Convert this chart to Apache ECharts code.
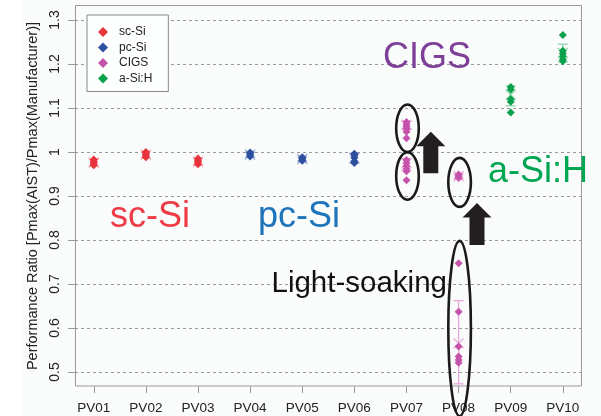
<!DOCTYPE html>
<html><head><meta charset="utf-8">
<script src="https://cdn.jsdelivr.net/npm/echarts@6/dist/echarts.min.js"></script>
<style>html,body{margin:0;padding:0;background:#fff}#c{width:601px;height:416px}</style>
</head><body><div id="c"></div>
<script>
// ---------- data ----------
const categories = ['PV01','PV02','PV03','PV04','PV05','PV06','PV07','PV08','PV09','PV10'];
const yTickLabels = ['0.5','0.6','0.7','0.8','0.9','1','1.1','1.2','1.3'];
const materials = ['sc-Si','pc-Si','CIGS','a-Si:H'];

// individual measurements (diamonds)
const pv01 = [0.983, 0.979, 0.976, 0.973, 0.970];
const pv02 = [1.000, 0.997, 0.994, 0.991, 0.988];
const pv03 = [0.985, 0.981, 0.978, 0.975, 0.972];
const pv04 = [0.999, 0.996, 0.993, 0.990];
const pv05 = [0.988, 0.985, 0.982, 0.980];
const pv06 = [0.996, 0.992, 0.987, 0.979, 0.975];
const pv07Initial = [0.982, 0.975, 0.968, 0.962, 0.956, 0.936];
const pv07Soaked  = [1.068, 1.063, 1.058, 1.052, 1.046, 1.031];
const pv08Initial = [0.747, 0.637, 0.558, 0.535, 0.527, 0.521];
const pv08Soaked  = [0.949, 0.946, 0.943, 0.941];
const pv09 = [1.148, 1.142, 1.120, 1.114, 1.090];
const pv10 = [1.266, 1.230, 1.224, 1.217, 1.210, 1.206];

// group summaries (mean cross and error bar)
const groupCategory = ['PV01','PV02','PV03','PV04','PV05','PV06','PV07','PV07','PV08','PV08','PV09','PV10'];
const groupMaterial = ['sc-Si','sc-Si','sc-Si','pc-Si','pc-Si','pc-Si','CIGS','CIGS','CIGS','CIGS','a-Si:H','a-Si:H'];
const groupMean = [0.976, 0.994, 0.978, 0.994, 0.984, 0.986, 0.975, 1.062, 0.565, 0.945, 1.130, 1.225];
const groupLow  = [0.969, 0.987, 0.971, 0.988, 0.979, 0.975, 0.958, 1.052, 0.473, 0.940, 1.105, 1.205];
const groupHigh = [0.983, 1.001, 0.985, 1.000, 0.989, 0.997, 0.985, 1.070, 0.662, 0.950, 1.150, 1.245];

// highlighted groups (ellipses): category, centre value, half height value
const ellipseCategory = ['PV07','PV07','PV08','PV08'];
const ellipseCentre   = [1.054, 0.9455, 0.931, 0.599];
const ellipseHalf     = [0.054, 0.054, 0.0557, 0.199];

// ---------- styling ----------
const dark  = {'sc-Si':'#e8333d','pc-Si':'#2d4f9f','CIGS':'#c653ab','a-Si:H':'#0aa14c'};
const light = {'sc-Si':'#f5a3a8','pc-Si':'#97a9d6','CIGS':'#e9a6d9','a-Si:H':'#8fd6ad'};
const FONT = 'Liberation Sans, Arial, sans-serif';

const pointGroups = [
  ['PV01', pv01, 'sc-Si'], ['PV02', pv02, 'sc-Si'], ['PV03', pv03, 'sc-Si'],
  ['PV04', pv04, 'pc-Si'], ['PV05', pv05, 'pc-Si'], ['PV06', pv06, 'pc-Si'],
  ['PV07', pv07Initial, 'CIGS'], ['PV07', pv07Soaked, 'CIGS'],
  ['PV08', pv08Initial, 'CIGS'], ['PV08', pv08Soaked, 'CIGS'],
  ['PV09', pv09, 'a-Si:H'], ['PV10', pv10, 'a-Si:H']
];

function errItem(params, api) {
  const x = api.value(0);
  const lo = api.coord([x, api.value(1)]);
  const hi = api.coord([x, api.value(2)]);
  const mid = api.coord([x, api.value(3)]);
  const style = {stroke: api.visual('color'), lineWidth: 1.3, fill: null};
  const cw = 5, xs = 5;
  return {type: 'group', children: [
    {type: 'line', shape: {x1: lo[0], y1: lo[1], x2: hi[0], y2: hi[1]}, style},
    {type: 'line', shape: {x1: lo[0]-cw, y1: lo[1], x2: lo[0]+cw, y2: lo[1]}, style},
    {type: 'line', shape: {x1: hi[0]-cw, y1: hi[1], x2: hi[0]+cw, y2: hi[1]}, style},
    {type: 'line', shape: {x1: mid[0]-xs, y1: mid[1]-xs, x2: mid[0]+xs, y2: mid[1]+xs}, style},
    {type: 'line', shape: {x1: mid[0]-xs, y1: mid[1]+xs, x2: mid[0]+xs, y2: mid[1]-xs}, style}
  ]};
}

function ellipseItem(params, api) {
  const x = api.value(0);
  const c = api.coord([x, api.value(1)]);
  const t = api.coord([x, api.value(1) + api.value(2)]);
  return {type: 'ellipse', shape: {cx: c[0] + 1, cy: c[1], rx: 11.3, ry: c[1] - t[1]},
          style: {fill: null, stroke: '#1a1a1a', lineWidth: 2.6}};
}

const series = [];
materials.forEach(m => {
  const data = [];
  groupCategory.forEach((c, i) => { if (groupMaterial[i] === m) data.push([c, groupLow[i], groupHigh[i], groupMean[i]]); });
  series.push({type: 'custom', name: m + ' summary', xAxisIndex: 0, yAxisIndex: 0, renderItem: errItem,
    itemStyle: {color: light[m]}, encode: {x: 0, y: [1, 2, 3]}, data, z: 2, silent: true});
});
materials.forEach(m => {
  const data = [];
  pointGroups.forEach(g => { if (g[2] === m) g[1].forEach(v => data.push([g[0], v])); });
  series.push({type: 'scatter', name: m, xAxisIndex: 0, yAxisIndex: 0, symbol: 'diamond', symbolSize: 8,
    itemStyle: {color: dark[m], opacity: 1}, data, z: 3, clip: false});
});
series.push({type: 'custom', name: 'highlight', xAxisIndex: 0, yAxisIndex: 0, renderItem: ellipseItem,
  encode: {x: 0, y: [1, 2]}, data: ellipseCategory.map((c, i) => [c, ellipseCentre[i], ellipseHalf[i]]), z: 5, silent: true});

function arrow(cx, tip, bottom) {
  return {type: 'polygon', z: 50, shape: {points: [
    [cx, tip], [cx + 14.5, tip + 14.5], [cx + 7.5, tip + 14.5], [cx + 7.5, bottom],
    [cx - 7.5, bottom], [cx - 7.5, tip + 14.5], [cx - 14.5, tip + 14.5]]},
    style: {fill: '#231f20'}};
}
function label(text, x, y, size, color) {
  return {type: 'text', z: 50, x, y, style: {text, fontSize: size, fontFamily: FONT, fill: color, verticalAlign: 'middle', align: 'left'}};
}

const chart = echarts.init(document.getElementById('c'), null, {renderer: 'canvas'});
chart.setOption({
  backgroundColor: '#fafbfb',
  animation: false,
  textStyle: {fontFamily: FONT},
  grid: [
    {left: 67.7, top: 20, width: 521.2, height: 352},
    {left: 75, top: 20, width: 507, height: 352}
  ],
  xAxis: [
    {type: 'category', gridIndex: 0, data: categories, offset: 14,
     axisLine: {show: false},
     axisTick: {show: true, alignWithLabel: true, interval: 0, length: 7, lineStyle: {color: '#999'}},
     axisLabel: {interval: 0, margin: 15, fontSize: 13.5, color: '#222'},
     splitLine: {show: false}},
    {type: 'value', gridIndex: 1, min: 0, max: 1, show: false}
  ],
  yAxis: [
    {type: 'value', gridIndex: 0, min: 0.5, max: 1.3, show: false},
    {type: 'value', gridIndex: 1, min: 0.5, max: 1.3, interval: 0.1,
     axisLine: {show: false},
     axisTick: {show: true, length: 7, lineStyle: {color: '#999'}},
     axisLabel: {rotate: 90, margin: 13, fontSize: 14, color: '#222',
                 formatter: v => yTickLabels[Math.round((v - 0.5) / 0.1)]},
     splitLine: {show: true, lineStyle: {color: '#9a9a9a', type: [3, 3], width: 1}},
     name: 'Performance Ratio [Pmax(AIST)/Pmax(Manufacturer)]',
     nameLocation: 'middle', nameGap: 27,
     nameTextStyle: {fontSize: 14.5, color: '#222'}}
  ],
  legend: {
    left: 87, top: 15, orient: 'vertical', itemWidth: 10, itemHeight: 10, itemGap: 3.5,
    padding: [11, 16, 7, 11], borderColor: '#888', borderWidth: 1, backgroundColor: '#fdfefe',
    textStyle: {fontSize: 12, color: '#222', padding: [0, 0, 0, 6]}, selectedMode: false,
    data: materials.map(m => ({name: m, icon: 'diamond'}))
  },
  graphic: [
    {type: 'rect', z: -10, shape: {x: 0, y: 0, width: 23, height: 416}, style: {fill: '#ffffff'}},
    {type: 'rect', z: 1, shape: {x: 75.5, y: 5.5, width: 506, height: 380.5}, style: {fill: null, stroke: '#999', lineWidth: 1}},
    arrow(430.8, 131.7, 173.3),
    arrow(477, 203, 245),
    label('sc-Si', 110, 217, 36, '#ee3b45'),
    label('pc-Si', 258, 217, 36, '#1d74bb'),
    label('CIGS', 383, 58.5, 36, '#7e3f98'),
    label('a-Si:H', 488, 172, 36, '#00a651'),
    label('Light-soaking', 271.5, 284, 29.5, '#111111')
  ],
  series
});
</script></body></html>
